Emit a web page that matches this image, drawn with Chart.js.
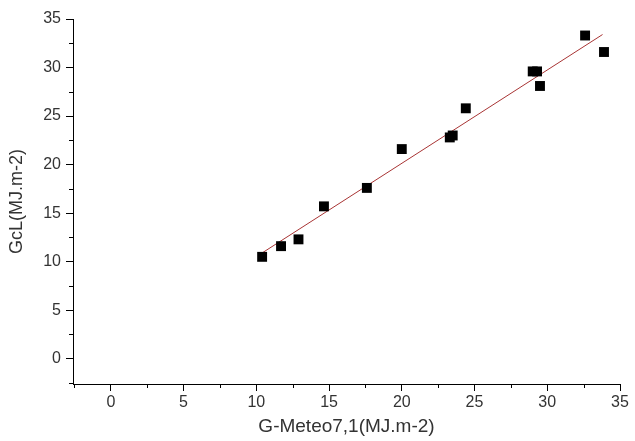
<!DOCTYPE html>
<html>
<head>
<meta charset="utf-8">
<script src="https://cdn.jsdelivr.net/npm/chart.js@4"></script>
<style>
  html, body { margin: 0; padding: 0; background: #fff; }
  #wrap { width: 635px; height: 441px; }
</style>
</head>
<body>
<div id="wrap"><canvas id="myChart" width="635" height="441"></canvas></div>
<script>
// measured values (G-Meteo7,1 vs GcL)
const meteoX = [10.4, 11.7, 12.9, 14.65, 17.6, 20.0, 23.3, 23.5, 24.4, 29.0, 29.3, 29.5, 32.6, 33.9];
const gclY   = [10.5, 11.6, 12.3, 15.7, 17.6, 21.6, 22.8, 23.0, 25.8, 29.6, 29.6, 28.1, 33.3, 31.6];

// fitted line endpoints
const fitX = [10.4, 33.8];
const fitY = [10.9, 33.4];

const xTicks = [0, 5, 10, 15, 20, 25, 30, 35];
const yTicks = [0, 5, 10, 15, 20, 25, 30, 35];

const points = meteoX.map((x, i) => ({ x: x, y: gclY[i] }));
const fitLine = fitX.map((x, i) => ({ x: x, y: fitY[i] }));

// small ticks between the labelled ones
const minorTicks = {
    id: 'minorTicks',
    afterDraw(chart) {
        const c = chart.ctx;
        const xs = chart.scales.x, ys = chart.scales.y;
        c.save();
        c.strokeStyle = '#000';
        c.lineWidth = 1;
        c.beginPath();
        for (let v = -2.5; v <= 35; v += 5) {
            const px = Math.round(xs.getPixelForValue(v)) + 0.5;
            if (v >= xs.min) { c.moveTo(px, xs.top); c.lineTo(px, xs.top + 4); }
            const py = Math.round(ys.getPixelForValue(v)) + 0.5;
            if (v >= ys.min) { c.moveTo(ys.right, py); c.lineTo(ys.right - 4, py); }
        }
        c.stroke();
        c.restore();
    }
};

const ctx = document.getElementById('myChart').getContext('2d');
const chart = new Chart(ctx, {
    type: 'scatter',
    data: {
        datasets: [{
            label: 'GcL',
            data: points,
            pointStyle: 'rect',
            pointRadius: 7,
            pointBorderWidth: 0,
            backgroundColor: '#000',
            borderColor: '#000',
            order: 1
        }, {
            type: 'line',
            label: 'fit',
            data: fitLine,
            borderColor: '#a83434',
            borderWidth: 1,
            pointRadius: 0,
            fill: false,
            order: 2
        }]
    },
    options: {
        responsive: false,
        animation: false,
        layout: { padding: { top: 19, right: 15, left: 0, bottom: 0 } },
        plugins: {
            legend: { display: false },
            tooltip: { enabled: false }
        },
        scales: {
            x: {
                type: 'linear',
                min: -2.6,
                max: 35,
                afterFit: function (s) { s.height = 57; },
                afterBuildTicks: function (s) { s.ticks = xTicks.map(v => ({ value: v })); },
                border: { display: true, color: '#000', width: 1 },
                grid: { drawOnChartArea: false, drawTicks: true, tickLength: 7, tickColor: '#000' },
                ticks: {
                    color: '#333',
                    padding: 2,
                    font: { family: 'Liberation Sans', size: 16 }
                },
                title: {
                    display: true,
                    text: 'G-Meteo7,1(MJ.m-2)',
                    color: '#333',
                    padding: { top: 2, bottom: 3 },
                    font: { family: 'Liberation Sans', size: 19 }
                }
            },
            y: {
                type: 'linear',
                min: -2.6,
                max: 35,
                afterFit: function (s) { s.width = 73; },
                afterBuildTicks: function (s) { s.ticks = yTicks.map(v => ({ value: v })); },
                border: { display: true, color: '#000', width: 1 },
                grid: { drawOnChartArea: false, drawTicks: true, tickLength: 7, tickColor: '#000' },
                ticks: {
                    color: '#333',
                    padding: 5,
                    font: { family: 'Liberation Sans', size: 16 }
                },
                title: {
                    display: true,
                    text: 'GcL(MJ.m-2)',
                    color: '#333',
                    padding: { top: 6, bottom: 2 },
                    font: { family: 'Liberation Sans', size: 18 }
                }
            }
        }
    },
    plugins: [minorTicks]
});
</script>
</body>
</html>
